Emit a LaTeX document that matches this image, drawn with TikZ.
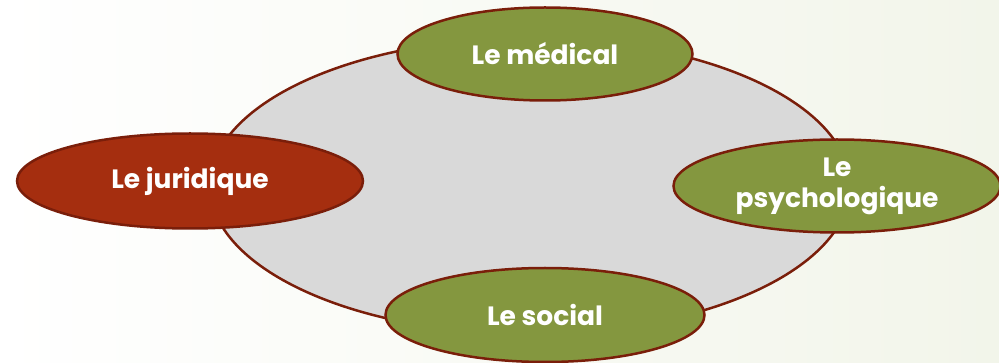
\documentclass[tikz,border=0pt]{standalone}
\usepackage{fontspec}
\setmainfont{Poppins}[UprightFont=* SemiBold, BoldFont=* Bold]
\usepackage{tikz}
\usetikzlibrary{positioning,shapes.geometric}
\definecolor{leafgreen}{HTML}{84973F}
\definecolor{brickred}{HTML}{A52E0F}
\definecolor{rimred}{HTML}{7A1E0A}
\definecolor{hubgray}{HTML}{D9D9D9}
\definecolor{paleback}{HTML}{F2F5EA}
\tikzset{part/.style={
    ellipse,
    draw=rimred,
    line width=2.5pt,
    fill=#1,
    text=white,
    inner sep=0pt,
    align=center,
    font=\fontsize{26.5}{31}\selectfont\bfseries
  },
  part/.default=leafgreen
}

\begin{document}
\begin{tikzpicture}[x=1pt,y=-1pt]
    \shade[left color=white, right color=paleback] (0,0) rectangle (999,363);
    \useasboundingbox (0,0) rectangle (999,363);
    \node[ellipse, draw=rimred, line width=2.5pt, fill=hubgray,
        minimum width=640pt, minimum height=296pt] (hub) at (530,186) {};
    \node[part, minimum width=295pt, minimum height=93pt] (medical) at (545,54) {Le médical};
    \node[part, minimum width=327pt, minimum height=93pt] (psycho) at (837,186) {Le\\psychologique};
    \node[part, minimum width=319pt, minimum height=94pt] (social) at (545,315) {Le social};
    \node[part=brickred, minimum width=346pt, minimum height=95pt] (juridique) at (190,181) {Le juridique};
\end{tikzpicture}
\end{document}
